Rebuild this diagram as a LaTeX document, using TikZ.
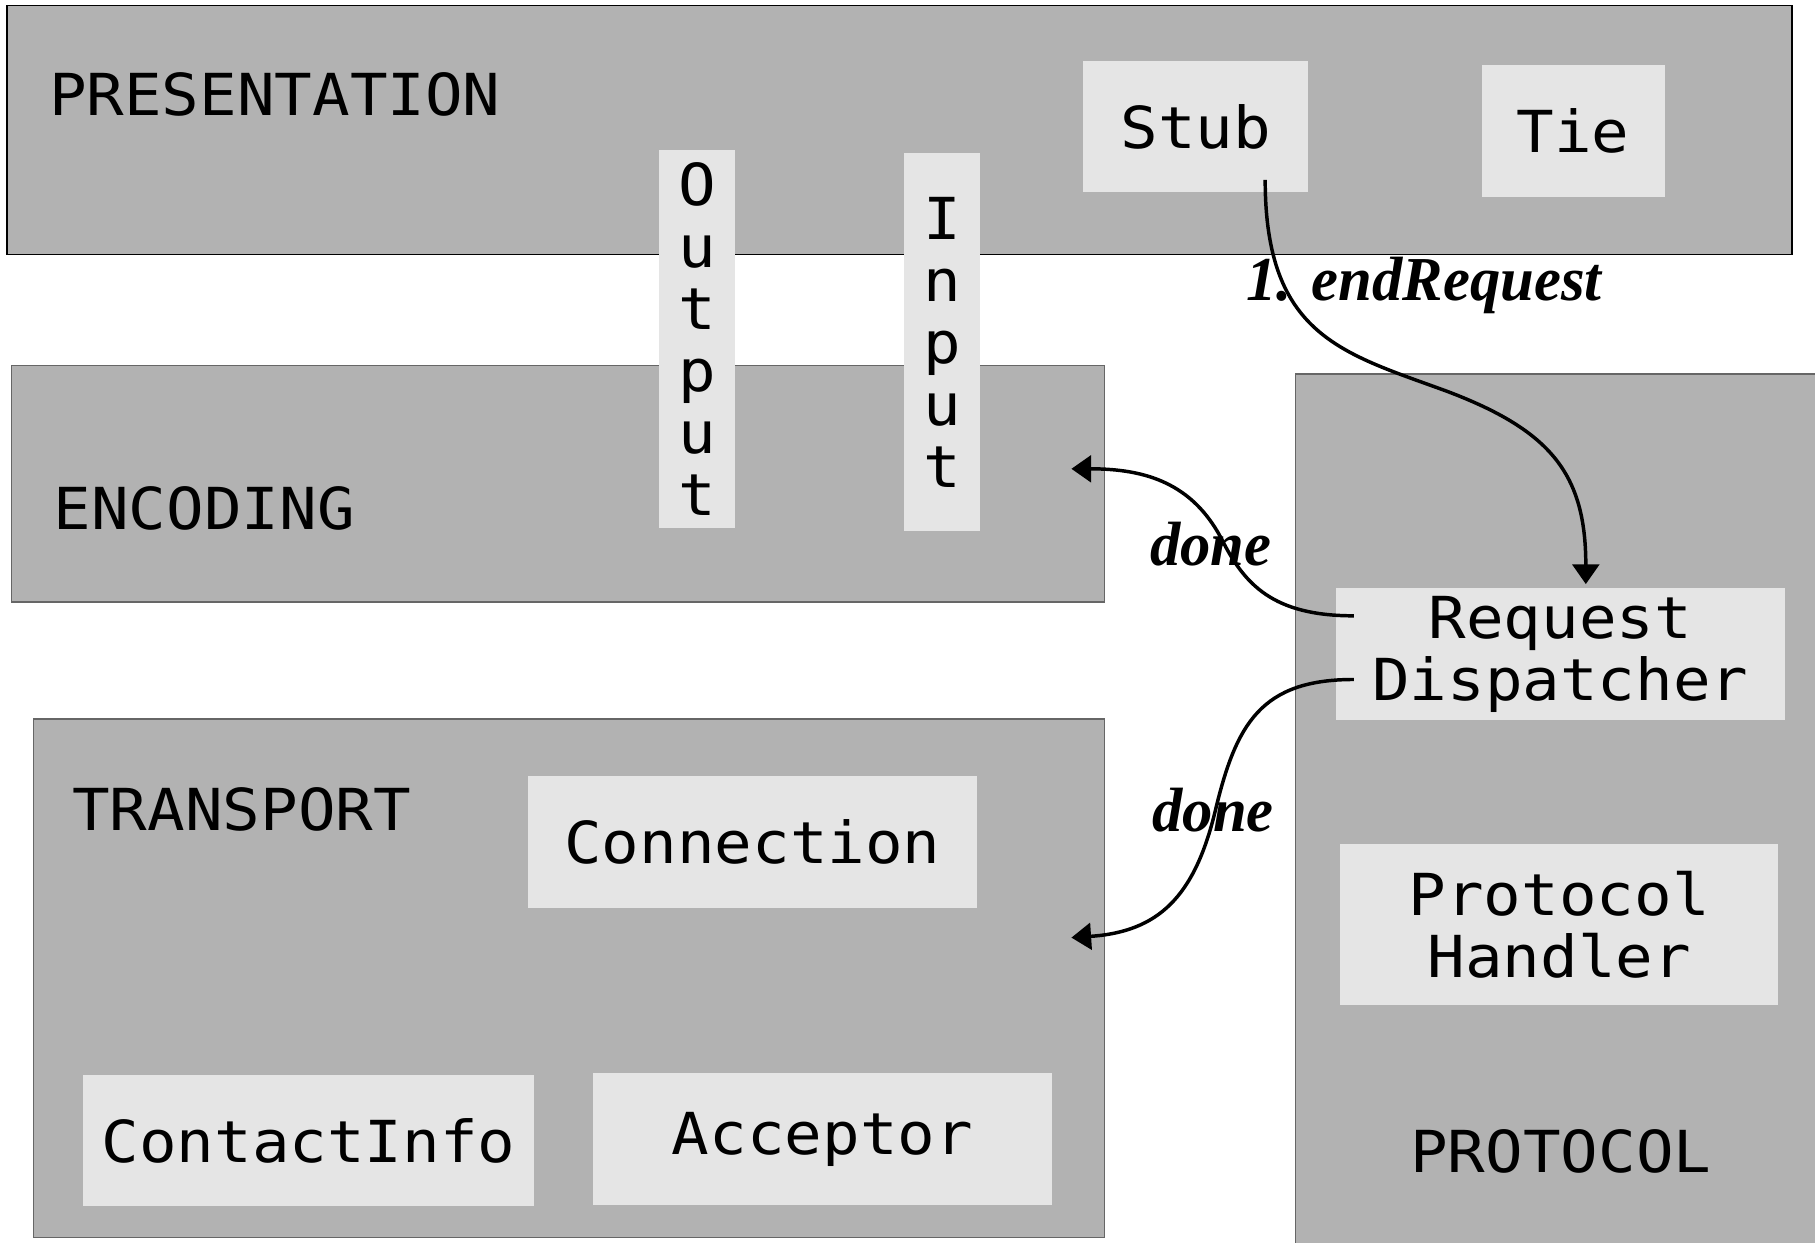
\documentclass[tikz,border=0pt]{standalone}
\usepackage{fontspec}
\newfontfamily\monof[FakeStretch=1.08]{DejaVu Sans Mono}
\newfontfamily\labf[FakeStretch=0.97]{Liberation Serif}
\usetikzlibrary{calc,arrows.meta}
\definecolor{layergray}{gray}{0.70}
\definecolor{boxgray}{gray}{0.90}
\begin{document}
\begin{tikzpicture}[x=0.5pt,y=-0.5pt,
 layer/.style={rectangle, fill=layergray, draw=black!60, line width=0.6pt, inner sep=0pt},
 item/.style={rectangle, fill=boxgray, inner sep=0pt, align=center, font=\monof\fontsize{25}{26.75}\selectfont},
 ltext/.style={anchor=west, inner sep=0pt, font=\monof\fontsize{25}{26.75}\selectfont},
 flow/.style={line width=1.5pt, -{Triangle[length=8.5pt,width=11.5pt]}},
 elab/.style={inner sep=0pt, font=\labf\bfseries\itshape\fontsize{27}{29}\selectfont}]
\useasboundingbox (0,0) rectangle (1568,1073);
\clip (0,0) rectangle (1568,1073);
\fill[white] (0,0) rectangle (1568,1073);

% layers
\node[layer, draw=black, minimum width=771pt, minimum height=107.5pt] (pres) at (777,112.5) {};
\node[layer, minimum width=472pt, minimum height=102pt] (enc) at (482,418) {};
\node[layer, minimum width=462.5pt, minimum height=224pt] (trans) at (491.5,845) {};
\node[layer, minimum width=230.5pt, minimum height=381pt] (prot) at (1349.5,704) {};

% layer titles
\node[ltext] (tpres) at (42,82) {PRESENTATION};
\node[ltext] (tenc) at (46,439) {ENCODING};
\node[ltext] (ttrans) at (62,699) {TRANSPORT};
\node[ltext] (tprot) at (1218,995) {PROTOCOL};

% items
\node[item, minimum width=97pt, minimum height=56.5pt] (stub) at (1033,109.5) {Stub};
\node[item, minimum width=79pt, minimum height=57pt] (tie) at (1359,113) {Tie};
\node[item, minimum width=33pt, minimum height=163pt] (out) at (602,293) {O\\u\\t\\p\\u\\t};
\node[item, minimum width=33pt, minimum height=163.5pt] (inp) at (814,295.5) {I\\n\\p\\u\\t};
\node[item, minimum width=194pt, minimum height=57pt] (rd) at (1348,565) {Request\\Dispatcher};
\node[item, minimum width=189pt, minimum height=69.5pt] (ph) at (1347,798.5) {Protocol\\Handler};
\node[item, minimum width=194pt, minimum height=57pt] (conn) at (650,727) {Connection};
\node[item, minimum width=194.5pt, minimum height=56.5pt] (ci) at (266.5,985.5) {ContactInfo};
\node[item, minimum width=198.5pt, minimum height=57pt] (acc) at (710.5,984) {Acceptor};

% connectors
\coordinate (s1) at ($(stub.south)+(60,-11)$);
\coordinate (e1) at ($(rd.north)+(22,-3)$);
\draw[flow] (s1) .. controls ($(s1)+(0,135)$) and (1160,305) .. (1250,338)
  .. controls (1340,372) and ($(e1)+(0,-95)$) .. (e1);

\coordinate (s2) at ($(rd.west)+(16,-33)$);
\coordinate (e2) at ($(enc.east)+(-29,-13)$);
\draw[flow] (s2) .. controls ($(s2)+(-70,0)$) and (1075,505) .. (1055,465)
  .. controls (1030,418) and ($(e2)+(65,0)$) .. (e2);

\coordinate (s3) at ($(rd.west)+(16,22)$);
\coordinate (e3) at ($(trans.east)+(-29,-35)$);
\draw[flow] (s3) .. controls ($(s3)+(-80,0)$) and (1068,625) .. (1050,700)
  .. controls (1032,775) and ($(e3)+(75,-5)$) .. (e3);

% connector labels
\node[elab] (l1) at (1230,247) {1. endRequest};
\node[elab] (l2) at (1046,470) {done};
\node[elab] (l3) at (1048,700) {done};
\end{tikzpicture}
\end{document}
